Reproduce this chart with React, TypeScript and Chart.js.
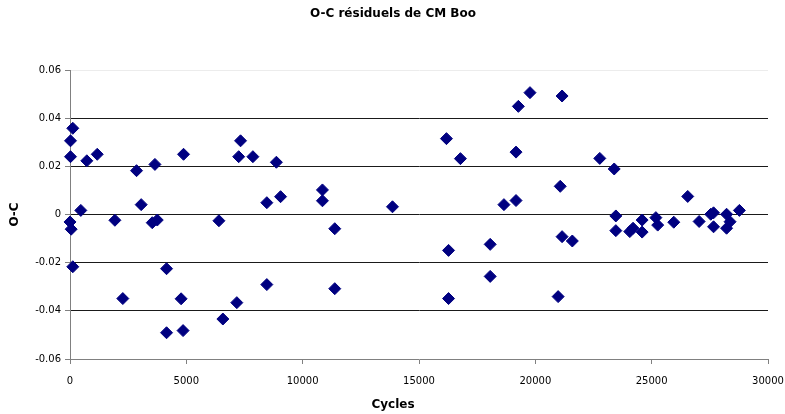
import React, { useEffect, useRef } from "react";
import { Chart, registerables } from "chart.js";

Chart.register(...registerables);

// Cycle numbers (epochs) of the timings
const cycles = [
  120, 22, 22, 723, 1170, 4880, 2860, 3650, 3060, 465, 0, 50, 1930, 3535, 3750,
  120, 4150, 2270, 4775, 4150, 4860,
  7330, 7250, 7860, 8870, 8460, 9050, 6400, 8460, 7170, 6570,
  10850, 10850, 13860, 11380, 11380, 16180, 16780, 16270, 16270, 18060, 18060,
  18650, 19170, 19170, 19270, 19770, 21150, 21070, 21150, 21590, 20980,
  22770, 23390, 26550, 23460, 23460, 24060, 24200, 24590, 24590, 25180, 25260,
  25950, 27040, 27540, 27660, 27660, 28220, 28220, 28370, 28770,
];

// O-C residuals (days)
const residuals = [
  0.0358, 0.0306, 0.024, 0.0223, 0.025, 0.025, 0.0182, 0.0208, 0.0041, 0.0017,
  -0.0031, -0.0061, -0.0024, -0.0034, -0.0023, -0.0217, -0.0225, -0.0349,
  -0.035, -0.0491, -0.0482,
  0.0306, 0.024, 0.024, 0.0217, 0.0049, 0.0074, -0.0026, -0.0291, -0.0366,
  -0.0434,
  0.0102, 0.0057, 0.0032, -0.0059, -0.0308, 0.0315, 0.0232, -0.0149, -0.0349,
  -0.0124, -0.0257, 0.0041, 0.0058, 0.0259, 0.0449, 0.0506, 0.0492, 0.0117,
  -0.0092, -0.011, -0.0341,
  0.0233, 0.0189, 0.0075, -0.0006, -0.0067, -0.0071, -0.0057, -0.0023,
  -0.0073, -0.0013, -0.0044, -0.0032, -0.0029, 0.0001, 0.0007, -0.0051,
  0.0001, -0.0057, -0.003, 0.0017,
];

const xTicks = [0, 5000, 10000, 15000, 20000, 25000, 30000];
const yTicks = [-0.06, -0.04, -0.02, 0, 0.02, 0.04, 0.06];
const yTickLabels = ["-0.06", "-0.04", "-0.02", "0", "0.02", "0.04", "0.06"];

const TITLE = "O-C résiduels de CM Boo";
const X_TITLE = "Cycles";
const Y_TITLE = "O-C";

export default function App() {
  const canvasRef = useRef<HTMLCanvasElement | null>(null);

  useEffect(() => {
    const canvas = canvasRef.current;
    if (!canvas) return;

    const points = cycles.map((c, i) => ({ x: c, y: residuals[i] }));
    const tickFont = { family: "'DejaVu Sans', sans-serif", size: 10 };
    const boldFont = {
      family: "'DejaVu Sans', sans-serif",
      size: 12,
      weight: "bold" as const,
    };

    const chart = new Chart(canvas, {
      type: "scatter",
      data: {
        datasets: [
          {
            data: points,
            pointStyle: "rectRot",
            pointRadius: 6,
            pointHoverRadius: 6,
            backgroundColor: "#000080",
            borderColor: "#000080",
            borderWidth: 1,
            clip: false,
          },
        ],
      },
      options: {
        animation: false,
        responsive: false,
        devicePixelRatio: 1,
        events: [],
        layout: { padding: { left: 18, right: 17, top: 0, bottom: 0 } },
        plugins: {
          legend: { display: false },
          tooltip: { enabled: false },
          title: {
            display: true,
            text: TITLE,
            color: "#000",
            font: boldFont,
            padding: { top: 7, bottom: 48.6 },
          },
          // x-axis caption, centred on the whole canvas
          subtitle: {
            display: true,
            position: "bottom",
            text: X_TITLE,
            color: "#000",
            font: boldFont,
            padding: { top: 0, bottom: 2 },
          },
        },
        scales: {
          x: {
            type: "linear",
            min: 0,
            max: 30000,
            afterFit: (scale: any) => {
              scale.height = 38.6;
              // the end labels may overhang the plot edges
              scale.paddingLeft = 0;
              scale.paddingRight = 0;
            },
            afterBuildTicks: (scale: any) => {
              scale.ticks = xTicks.map((v) => ({ value: v }));
            },
            ticks: {
              color: "#000",
              font: tickFont,
              padding: 11,
              maxRotation: 0,
              callback: (v: any) => String(v),
            },
            grid: {
              drawOnChartArea: false,
              drawTicks: true,
              tickLength: 5,
              tickColor: "#808080",
            },
            border: { display: true, color: "#808080", width: 1 },
          },
          y: {
            type: "linear",
            min: -0.06,
            max: 0.06,
            afterFit: (scale: any) => {
              scale.width = 52;
            },
            afterBuildTicks: (scale: any) => {
              scale.ticks = yTicks.map((v) => ({ value: v }));
            },
            ticks: {
              color: "#000",
              font: tickFont,
              padding: 4,
              callback: (v: any) => {
                const i = yTicks.findIndex((t) => Math.abs(t - v) < 1e-9);
                return i >= 0 ? yTickLabels[i] : "";
              },
            },
            grid: {
              drawTicks: true,
              tickLength: 5,
              tickColor: "#808080",
              color: (ctx: any) => {
                const v = ctx.tick ? ctx.tick.value : 0;
                if (Math.abs(v + 0.06) < 1e-9) return "rgba(0,0,0,0)";
                if (Math.abs(v - 0.06) < 1e-9) return "#ececec";
                return "#1a1a1a";
              },
            },
            border: { display: true, color: "#808080", width: 1 },
            title: {
              display: true,
              text: Y_TITLE,
              color: "#000",
              font: boldFont,
              padding: { top: -10, bottom: 0 },
            },
          },
        },
      },
    });

    return () => chart.destroy();
  }, []);

  return (
    <div
      style={{
        position: "fixed",
        left: 0,
        top: 0,
        width: 785,
        height: 414,
        background: "#fff",
      }}
    >
      <canvas ref={canvasRef} width={785} height={414} />
    </div>
  );
}
